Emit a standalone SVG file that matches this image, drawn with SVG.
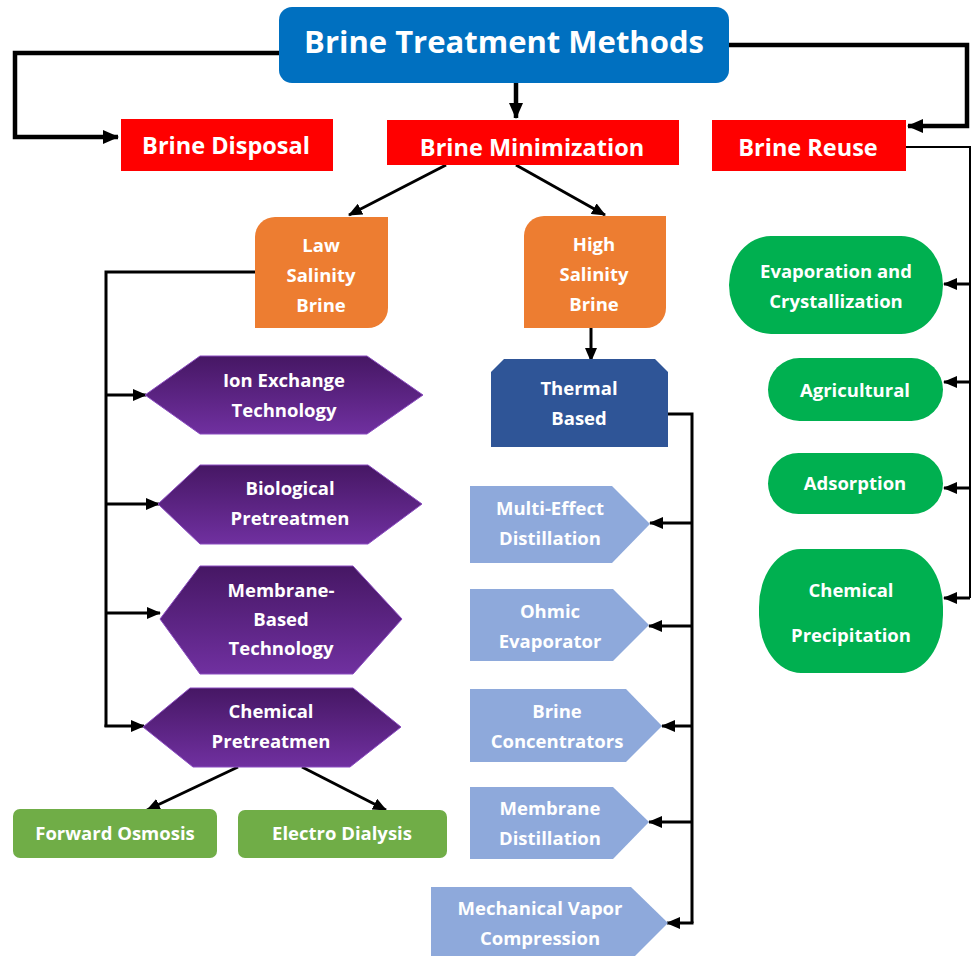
<svg xmlns="http://www.w3.org/2000/svg" width="971" height="956" viewBox="0 0 971 956">
  <style>
    .t { font-family: "Open Sans", Lato, "Liberation Sans", sans-serif; font-weight: 700; fill: #ffffff; text-anchor: middle; }
    .title { font-size: 31px; }
    .cat { font-size: 23.5px; }
    .lbl { font-size: 18.5px; }
    .red { fill: #FF0000; }
    .orange { fill: #ED7D31; }
    .hex { fill: url(#purpleGrad); stroke: #8A4CC0; stroke-width: 1; }
    .thermal { fill: #2F5597; }
    .penta { fill: #8EA9DB; }
    .olive { fill: #70AD47; }
    .green { fill: #00B050; }
    .wire { fill: none; stroke: #000000; stroke-width: 3; }
    .wire-thick { fill: none; stroke: #000000; stroke-width: 4.5; }
    .wire-thin { fill: none; stroke: #000000; stroke-width: 2; }
  </style>
  <defs>
    <linearGradient id="purpleGrad" x1="0" y1="0" x2="0" y2="1">
      <stop offset="0" stop-color="#461764"/>
      <stop offset="1" stop-color="#7030A0"/>
    </linearGradient>
    <marker id="arrow" markerUnits="userSpaceOnUse" markerWidth="14" markerHeight="12" refX="13" refY="6" orient="auto">
      <path d="M0,0 L14,6 L0,12 Z" fill="#000000"/>
    </marker>
    <marker id="arrowBig" markerUnits="userSpaceOnUse" markerWidth="16" markerHeight="14" refX="15" refY="7" orient="auto">
      <path d="M0,0 L16,7 L0,14 Z" fill="#000000"/>
    </marker>
  </defs>

  <!-- connectors -->
  <g id="connectors">
    <!-- root to the three branches -->
    <polyline class="wire-thick" points="279,53 15,53 15,137 118,137" marker-end="url(#arrowBig)"/>
    <polyline class="wire-thick" points="729,45 967,45 967,126 908,126" marker-end="url(#arrowBig)"/>
    <line class="wire-thick" x1="516" y1="83" x2="516" y2="118" marker-end="url(#arrowBig)"/>

    <!-- minimization split -->
    <line class="wire" x1="446" y1="165" x2="349" y2="215" marker-end="url(#arrow)"/>
    <line class="wire" x1="516" y1="165" x2="605" y2="215" marker-end="url(#arrow)"/>

    <!-- low salinity bus -->
    <polyline class="wire" points="255,272 106,272 106,727"/>
    <line class="wire" x1="106" y1="395" x2="146" y2="395" marker-end="url(#arrow)"/>
    <line class="wire" x1="106" y1="504" x2="159" y2="504" marker-end="url(#arrow)"/>
    <line class="wire" x1="106" y1="613" x2="160" y2="613" marker-end="url(#arrow)"/>
    <line class="wire" x1="104.5" y1="726" x2="144" y2="726" marker-end="url(#arrow)"/>

    <!-- chemical pretreatment outputs -->
    <line class="wire" x1="238" y1="767" x2="147" y2="810" marker-end="url(#arrow)"/>
    <line class="wire" x1="302" y1="767" x2="386" y2="810" marker-end="url(#arrow)"/>

    <!-- high salinity to thermal -->
    <line class="wire" x1="591" y1="328" x2="591" y2="361" marker-end="url(#arrow)"/>

    <!-- thermal bus -->
    <polyline class="wire" points="668,414 692,414 692,923"/>
    <line class="wire" x1="692" y1="523" x2="650" y2="523" marker-end="url(#arrow)"/>
    <line class="wire" x1="692" y1="626" x2="649" y2="626" marker-end="url(#arrow)"/>
    <line class="wire" x1="692" y1="726" x2="662" y2="726" marker-end="url(#arrow)"/>
    <line class="wire" x1="692" y1="822" x2="649" y2="822" marker-end="url(#arrow)"/>
    <line class="wire" x1="693.5" y1="923" x2="667" y2="923" marker-end="url(#arrow)"/>

    <!-- reuse bus -->
    <polyline class="wire-thin" points="906,147 970,147 970,598"/>
    <line class="wire" x1="970" y1="284" x2="944" y2="284" marker-end="url(#arrow)"/>
    <line class="wire" x1="970" y1="382" x2="944" y2="382" marker-end="url(#arrow)"/>
    <line class="wire" x1="970" y1="488" x2="944" y2="488" marker-end="url(#arrow)"/>
    <line class="wire" x1="970" y1="598" x2="944" y2="598" marker-end="url(#arrow)"/>
  </g>

  <!-- root -->
  <g id="root">
    <rect x="279" y="7" width="450" height="76" rx="13" fill="#0070C0"/>
    <text class="t title" x="504" y="53">Brine Treatment Methods</text>
  </g>

  <!-- branches -->
  <g id="brine-disposal">
    <rect class="red" x="121" y="119" width="212" height="52"/>
    <text class="t cat" x="226" y="154">Brine Disposal</text>
  </g>
  <g id="brine-minimization">
    <rect class="red" x="387" y="120" width="292" height="45"/>
    <text class="t cat" x="532" y="156">Brine Minimization</text>
  </g>
  <g id="brine-reuse">
    <rect class="red" x="712" y="120" width="194" height="51"/>
    <text class="t cat" x="808" y="156">Brine Reuse</text>
  </g>

  <!-- salinity classes -->
  <g id="low-salinity">
    <path class="orange" d="M275,217 H388 V308 A20,20 0 0 1 368,328 H255 V237 A20,20 0 0 1 275,217 Z"/>
    <text class="t lbl" x="321" y="252">Law</text>
    <text class="t lbl" x="321" y="282">Salinity</text>
    <text class="t lbl" x="321" y="312">Brine</text>
  </g>
  <g id="high-salinity">
    <path class="orange" d="M544,216 H666 V308 A20,20 0 0 1 646,328 H524 V236 A20,20 0 0 1 544,216 Z"/>
    <text class="t lbl" x="594" y="251">High</text>
    <text class="t lbl" x="594" y="281">Salinity</text>
    <text class="t lbl" x="594" y="311">Brine</text>
  </g>

  <!-- low salinity methods -->
  <g id="ion-exchange">
    <polygon class="hex" points="145,395 200,356 367,356 423,395 367,434 200,434"/>
    <text class="t lbl" x="284" y="387">Ion Exchange</text>
    <text class="t lbl" x="284" y="417">Technology</text>
  </g>
  <g id="biological-pretreatment">
    <polygon class="hex" points="158,504 200,465 368,465 422,504 368,544 200,544"/>
    <text class="t lbl" x="290" y="495">Biological</text>
    <text class="t lbl" x="290" y="525">Pretreatmen</text>
  </g>
  <g id="membrane-based">
    <polygon class="hex" points="160,619 200,566 353,566 402,619 353,674 200,674"/>
    <text class="t lbl" x="281" y="597">Membrane-</text>
    <text class="t lbl" x="281" y="626">Based</text>
    <text class="t lbl" x="281" y="655">Technology</text>
  </g>
  <g id="chemical-pretreatment">
    <polygon class="hex" points="143,727 190,688 353,688 401,727 350,767 193,767"/>
    <text class="t lbl" x="271" y="718">Chemical</text>
    <text class="t lbl" x="271" y="748">Pretreatmen</text>
  </g>
  <g id="forward-osmosis">
    <rect class="olive" x="13" y="809" width="204" height="49" rx="7"/>
    <text class="t lbl" x="115" y="840">Forward Osmosis</text>
  </g>
  <g id="electro-dialysis">
    <rect class="olive" x="238" y="810" width="209" height="48" rx="7"/>
    <text class="t lbl" x="342" y="840">Electro Dialysis</text>
  </g>

  <!-- high salinity methods -->
  <g id="thermal-based">
    <polygon class="thermal" points="504,359 655,359 668,372 668,447 491,447 491,372"/>
    <text class="t lbl" x="579" y="395">Thermal</text>
    <text class="t lbl" x="579" y="425">Based</text>
  </g>
  <g id="multi-effect-distillation">
    <polygon class="penta" points="470,486 612,486 650,524 612,563 470,563"/>
    <text class="t lbl" x="550" y="515">Multi-Effect</text>
    <text class="t lbl" x="550" y="545">Distillation</text>
  </g>
  <g id="ohmic-evaporator">
    <polygon class="penta" points="470,589 613,589 649,625 613,661 470,661"/>
    <text class="t lbl" x="550" y="618">Ohmic</text>
    <text class="t lbl" x="550" y="648">Evaporator</text>
  </g>
  <g id="brine-concentrators">
    <polygon class="penta" points="470,689 626,689 662,726 626,762 470,762"/>
    <text class="t lbl" x="557" y="718">Brine</text>
    <text class="t lbl" x="557" y="748">Concentrators</text>
  </g>
  <g id="membrane-distillation">
    <polygon class="penta" points="470,787 613,787 649,822 613,859 470,859"/>
    <text class="t lbl" x="550" y="815">Membrane</text>
    <text class="t lbl" x="550" y="845">Distillation</text>
  </g>
  <g id="mechanical-vapor-compression">
    <polygon class="penta" points="431,887 631,887 668,923 631,960 431,960"/>
    <text class="t lbl" x="540" y="915">Mechanical Vapor</text>
    <text class="t lbl" x="540" y="945">Compression</text>
  </g>

  <!-- reuse methods -->
  <g id="evaporation-crystallization">
    <rect class="green" x="729" y="236" width="214" height="98" rx="42" ry="49"/>
    <text class="t lbl" x="836" y="278">Evaporation and</text>
    <text class="t lbl" x="836" y="308">Crystallization</text>
  </g>
  <g id="agricultural">
    <rect class="green" x="768" y="358" width="175" height="63" rx="31.5"/>
    <text class="t lbl" x="855" y="397">Agricultural</text>
  </g>
  <g id="adsorption">
    <rect class="green" x="768" y="453" width="175" height="61" rx="30.5"/>
    <text class="t lbl" x="855" y="490">Adsorption</text>
  </g>
  <g id="chemical-precipitation">
    <rect class="green" x="759" y="549" width="184" height="124" rx="42" ry="58"/>
    <text class="t lbl" x="851" y="597">Chemical</text>
    <text class="t lbl" x="851" y="642">Precipitation</text>
  </g>
</svg>
